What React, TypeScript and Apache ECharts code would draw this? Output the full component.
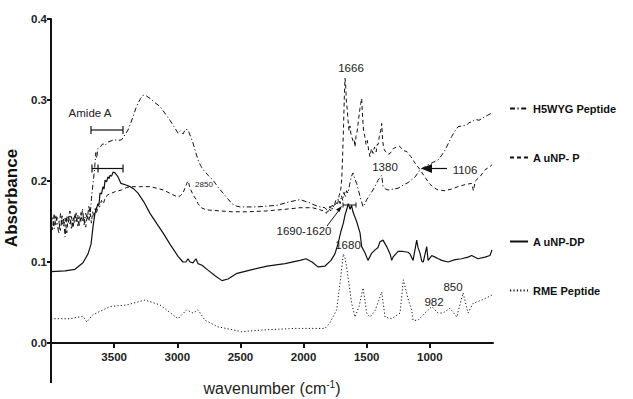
import React, { useEffect, useRef } from "react";
import * as echarts from "echarts";

// ---------- data ----------
const seriesNames = ["H5WYG Peptide", "A uNP- P", "A uNP-DP", "RME Peptide"];
const xTicks = [1000, 1500, 2000, 2500, 3000, 3500];
const yTicks = [0, 0.1, 0.2, 0.3, 0.4];

const h5wyg: number[][] = [
  [4000,0.148],[3988,0.156],[3975,0.141],[3962,0.158],[3950,0.147],[3938,0.135],[3925,0.160],[3912,0.145],
  [3900,0.153],[3888,0.131],[3875,0.157],[3862,0.149],[3850,0.163],[3838,0.140],[3825,0.155],[3812,0.148],
  [3800,0.162],[3788,0.143],[3775,0.157],[3762,0.150],[3750,0.166],[3738,0.146],[3725,0.160],[3712,0.153],
  [3700,0.170],[3690,0.158],[3680,0.178],[3667,0.197],[3655,0.215],[3645,0.235],[3638,0.228],[3630,0.240],
  [3610,0.242],[3590,0.246],[3572,0.244],[3550,0.248],[3533,0.249],[3500,0.251],[3470,0.250],[3440,0.251],
  [3415,0.257],[3390,0.263],[3370,0.271],[3351,0.279],[3330,0.289],[3311,0.296],[3290,0.302],[3271,0.306],
  [3245,0.305],[3216,0.302],[3180,0.297],[3137,0.292],[3100,0.284],[3058,0.275],[3025,0.267],[2994,0.259],
  [2975,0.262],[2955,0.258],[2935,0.264],[2915,0.263],[2895,0.255],[2876,0.247],[2855,0.236],[2836,0.226],
  [2815,0.219],[2796,0.214],[2755,0.207],[2717,0.201],[2680,0.193],[2638,0.185],[2600,0.178],[2567,0.172],
  [2530,0.169],[2503,0.168],[2440,0.168],[2369,0.168],[2290,0.169],[2210,0.170],[2120,0.174],[2028,0.177],
  [1989,0.175],[1950,0.173],[1909,0.170],[1870,0.168],[1830,0.167],[1805,0.162],[1790,0.169],[1775,0.164],
  [1760,0.170],[1740,0.172],[1725,0.178],[1710,0.172],[1700,0.182],[1690,0.176],[1680,0.186],[1670,0.180],
  [1660,0.188],[1648,0.185],[1635,0.196],[1620,0.206],[1609,0.210],[1595,0.203],[1580,0.197],[1565,0.188],
  [1553,0.181],[1540,0.174],[1529,0.168],[1515,0.172],[1500,0.177],[1475,0.183],[1450,0.189],[1430,0.195],
  [1410,0.201],[1395,0.204],[1381,0.207],[1371,0.193],[1350,0.190],[1331,0.189],[1290,0.190],[1252,0.191],
  [1210,0.195],[1173,0.198],[1140,0.202],[1117,0.205],[1095,0.210],[1078,0.214],[1045,0.217],[1014,0.220],
  [975,0.223],[935,0.226],[905,0.232],[880,0.238],[855,0.246],[827,0.255],[800,0.262],[777,0.267],
  [745,0.268],[708,0.269],[690,0.272],[669,0.273],[640,0.276],[610,0.275],[579,0.278],[545,0.281],[508,0.284]
];

const aunpP: number[][] = [
  [4000,0.152],[3988,0.140],[3975,0.160],[3962,0.146],[3950,0.155],[3938,0.150],[3925,0.139],[3912,0.157],
  [3900,0.144],[3888,0.154],[3875,0.136],[3862,0.158],[3850,0.147],[3838,0.156],[3825,0.142],[3812,0.160],
  [3800,0.150],[3788,0.158],[3775,0.145],[3762,0.161],[3750,0.149],[3738,0.156],[3725,0.143],[3712,0.158],
  [3700,0.150],[3690,0.160],[3680,0.148],[3670,0.162],[3660,0.155],[3650,0.166],[3640,0.160],[3628,0.170],
  [3615,0.168],[3600,0.176],[3585,0.172],[3570,0.180],[3549,0.183],[3520,0.185],[3490,0.187],[3440,0.189],
  [3400,0.192],[3351,0.193],[3300,0.193],[3216,0.193],[3160,0.191],[3113,0.189],[3060,0.185],[3034,0.183],
  [2994,0.180],[2975,0.182],[2955,0.185],[2935,0.193],[2925,0.197],[2915,0.200],[2900,0.192],[2876,0.183],
  [2850,0.177],[2836,0.172],[2810,0.167],[2780,0.165],[2745,0.164],[2650,0.163],[2567,0.162],[2450,0.162],
  [2300,0.163],[2150,0.165],[2028,0.167],[1930,0.167],[1880,0.165],[1840,0.163],[1820,0.160],[1800,0.166],
  [1785,0.163],[1775,0.170],[1760,0.168],[1745,0.176],[1730,0.172],[1718,0.182],[1705,0.190],[1697,0.205],
  [1690,0.235],[1683,0.270],[1677,0.305],[1672,0.327],[1667,0.320],[1662,0.300],[1655,0.290],[1648,0.275],
  [1640,0.262],[1632,0.268],[1625,0.258],[1619,0.255],[1610,0.250],[1600,0.252],[1593,0.242],[1585,0.255],
  [1575,0.262],[1565,0.275],[1555,0.288],[1547,0.296],[1540,0.302],[1533,0.280],[1525,0.262],[1515,0.255],
  [1505,0.245],[1495,0.250],[1485,0.238],[1474,0.230],[1462,0.240],[1450,0.234],[1438,0.242],[1425,0.236],
  [1418,0.245],[1410,0.245],[1400,0.255],[1390,0.262],[1381,0.271],[1374,0.250],[1365,0.240],[1350,0.236],
  [1330,0.233],[1315,0.234],[1290,0.240],[1262,0.242],[1240,0.243],[1212,0.238],[1180,0.236],[1150,0.230],
  [1117,0.222],[1078,0.214],[1040,0.205],[1000,0.196],[960,0.191],[935,0.189],[880,0.188],[830,0.190],
  [777,0.193],[710,0.196],[669,0.197],[655,0.188],[640,0.200],[600,0.206],[563,0.214],[530,0.217],[508,0.220]
];

const aunpDP: number[][] = [
  [4000,0.088],[3889,0.089],[3810,0.091],[3747,0.099],[3707,0.110],[3683,0.122],[3667,0.144],[3652,0.160],
  [3640,0.166],[3628,0.172],[3620,0.170],[3612,0.185],[3600,0.184],[3588,0.193],[3580,0.190],[3572,0.201],
  [3560,0.199],[3549,0.205],[3540,0.203],[3533,0.207],[3520,0.206],[3509,0.211],[3493,0.210],[3469,0.205],
  [3446,0.197],[3406,0.195],[3374,0.193],[3343,0.190],[3311,0.185],[3264,0.174],[3216,0.160],[3161,0.147],
  [3113,0.136],[3058,0.122],[2994,0.107],[2955,0.100],[2931,0.100],[2915,0.104],[2899,0.100],[2876,0.099],
  [2852,0.104],[2836,0.098],[2804,0.096],[2757,0.090],[2701,0.083],[2646,0.077],[2598,0.079],[2527,0.086],
  [2424,0.090],[2289,0.095],[2147,0.098],[2028,0.102],[1981,0.104],[1933,0.100],[1886,0.094],[1830,0.095],
  [1783,0.102],[1752,0.110],[1728,0.122],[1704,0.138],[1685,0.148],[1672,0.158],[1656,0.166],[1646,0.172],
  [1632,0.165],[1620,0.170],[1609,0.162],[1580,0.150],[1553,0.136],[1540,0.119],[1513,0.111],[1490,0.102],
  [1460,0.111],[1434,0.115],[1410,0.118],[1395,0.125],[1371,0.127],[1342,0.119],[1315,0.110],[1302,0.102],
  [1292,0.106],[1252,0.113],[1212,0.113],[1173,0.112],[1157,0.110],[1133,0.102],[1104,0.127],[1094,0.118],
  [1078,0.111],[1064,0.101],[1052,0.100],[1025,0.119],[1014,0.102],[985,0.108],[959,0.106],[933,0.104],
  [906,0.102],[856,0.100],[801,0.103],[748,0.104],[698,0.106],[669,0.108],[619,0.104],[563,0.106],
  [524,0.108],[508,0.115]
];

const rme: number[][] = [
  [4000,0.030],[3850,0.030],[3747,0.033],[3717,0.026],[3667,0.035],[3533,0.045],[3400,0.047],[3256,0.053],
  [3137,0.047],[2994,0.030],[2925,0.041],[2876,0.037],[2836,0.041],[2780,0.028],[2678,0.020],[2490,0.014],
  [2331,0.016],[2068,0.018],[1830,0.018],[1791,0.025],[1738,0.041],[1711,0.074],[1685,0.110],[1672,0.105],
  [1659,0.094],[1619,0.049],[1593,0.032],[1561,0.045],[1529,0.068],[1500,0.037],[1474,0.032],[1434,0.040],
  [1381,0.063],[1355,0.032],[1302,0.030],[1236,0.037],[1210,0.078],[1170,0.053],[1144,0.041],[1133,0.028],
  [1094,0.028],[1038,0.037],[985,0.045],[935,0.037],[896,0.037],[840,0.043],[787,0.032],[737,0.062],
  [698,0.037],[658,0.049],[589,0.053],[510,0.059]
];

const seriesData = [h5wyg, aunpP, aunpDP, rme];

// ---------- styles ----------
const FONT = "'Liberation Sans', Arial, sans-serif";
const INK = "#111";
const lineTypes: any[] = [[5, 2.5, 1.2, 2.5], [4, 3], "solid", [1.2, 2.2]];
const lineWidths = [1, 1, 1.2, 1];
const legendTops = [98, 147, 231, 280];

export default function App() {
  const ref = useRef<HTMLDivElement>(null);

  useEffect(() => {
    if (!ref.current) return;
    const chart = echarts.init(ref.current, null, { renderer: "svg" });

    const annText = (x: number, y: number, text: string, size = 11.5) => ({
      type: "text",
      x,
      y,
      style: { text, fill: "#222", font: `${size}px ${FONT}`, align: "center", verticalAlign: "middle" },
    });
    const seg = (x1: number, y1: number, x2: number, y2: number, w = 1.2) => ({
      type: "line",
      shape: { x1, y1, x2, y2 },
      style: { stroke: INK, lineWidth: w },
    });

    chart.setOption({
      animation: false,
      backgroundColor: "#fff",
      grid: {
        left: 51,
        right: 140,
        top: 19,
        bottom: 56,
        containLabel: false,
        outerBoundsMode: "none",
      },
      xAxis: {
        type: "value",
        min: 500,
        max: 4000,
        inverse: true,
        axisLine: { show: true, onZero: false, lineStyle: { color: INK, width: 2 } },
        axisTick: { show: true, customValues: xTicks, length: 5, lineStyle: { color: INK, width: 2 } },
        axisLabel: {
          customValues: xTicks,
          formatter: (v: number) => String(v),
          color: "#222",
          fontSize: 11.5,
          fontWeight: "bold",
          fontFamily: FONT,
          margin: 8,
        },
        splitLine: { show: false },
        name: "wavenumber (cm{s|-1})",
        nameLocation: "middle",
        nameGap: 36,
        nameTextStyle: {
          fontSize: 16,
          color: "#222",
          fontFamily: FONT,
          rich: { s: { fontSize: 10, fontFamily: FONT, color: "#222", padding: [0, 0, 9, 0] } },
        },
      },
      yAxis: {
        type: "value",
        min: 0,
        max: 0.4,
        interval: 0.1,
        axisLine: { show: true, onZero: false, lineStyle: { color: INK, width: 2 } },
        axisTick: { show: true, length: 4, lineStyle: { color: INK, width: 2 } },
        axisLabel: {
          formatter: (v: number) => v.toFixed(1),
          color: "#222",
          fontSize: 11.5,
          fontWeight: "bold",
          fontFamily: FONT,
          margin: 4,
        },
        splitLine: { show: false },
        name: "Absorbance",
        nameLocation: "middle",
        nameGap: 30,
        nameTextStyle: {
          fontSize: 17,
          fontWeight: "bold",
          color: INK,
          fontFamily: FONT,
          padding: [0, 34, 0, 0],
        },
      },
      legend: seriesNames.map((n, i) => ({
        data: [n],
        left: 504,
        top: legendTops[i],
        itemWidth: 18,
        itemHeight: 12,
        itemStyle: { opacity: 0 },
        textStyle: { fontSize: 11, fontWeight: "bold", color: INK, fontFamily: FONT },
        selectedMode: false,
      })),
      series: seriesNames.map((n, i) => ({
        name: n,
        type: "line",
        data: seriesData[i],
        symbol: "none",
        showSymbol: false,
        silent: true,
        lineStyle: { color: INK, width: lineWidths[i], type: lineTypes[i] },
        itemStyle: { color: INK },
      })),
      graphic: [
        seg(51, 343, 51, 383, 2),
        annText(90, 113, "Amide A"),
        seg(91, 130, 123, 130),
        seg(91, 126, 91, 134),
        seg(123, 126, 123, 134),
        seg(92, 168.5, 123, 168.5),
        seg(92, 164.5, 92, 172.5),
        seg(98, 164.5, 98, 172.5),
        seg(123, 164.5, 123, 172.5),
        annText(204, 184, "2850", 8),
        annText(351, 68, "1666"),
        annText(385, 167, "1380"),
        annText(465, 170, "1106"),
        seg(431, 168.5, 447, 168.5),
        {
          type: "polygon",
          shape: { points: [[421, 168.5], [432, 164], [432, 173]] },
          style: { fill: INK },
        },
        annText(304, 231, "1690-1620"),
        seg(327, 226, 340, 209, 1),
        {
          type: "polygon",
          shape: { points: [[342, 206], [336, 209.5], [339.5, 212]] },
          style: { fill: INK },
        },
        seg(343, 205, 356, 205, 1),
        seg(343, 202.5, 343, 207.5, 1),
        seg(356, 202.5, 356, 207.5, 1),
        annText(348, 245, "1680"),
        annText(434, 302, "982"),
        annText(453, 287, "850"),
      ],
    });

    return () => chart.dispose();
  }, []);

  return (
    <div
      ref={ref}
      style={{ position: "fixed", left: 0, top: 0, width: 633, height: 399, background: "#fff" }}
    />
  );
}
